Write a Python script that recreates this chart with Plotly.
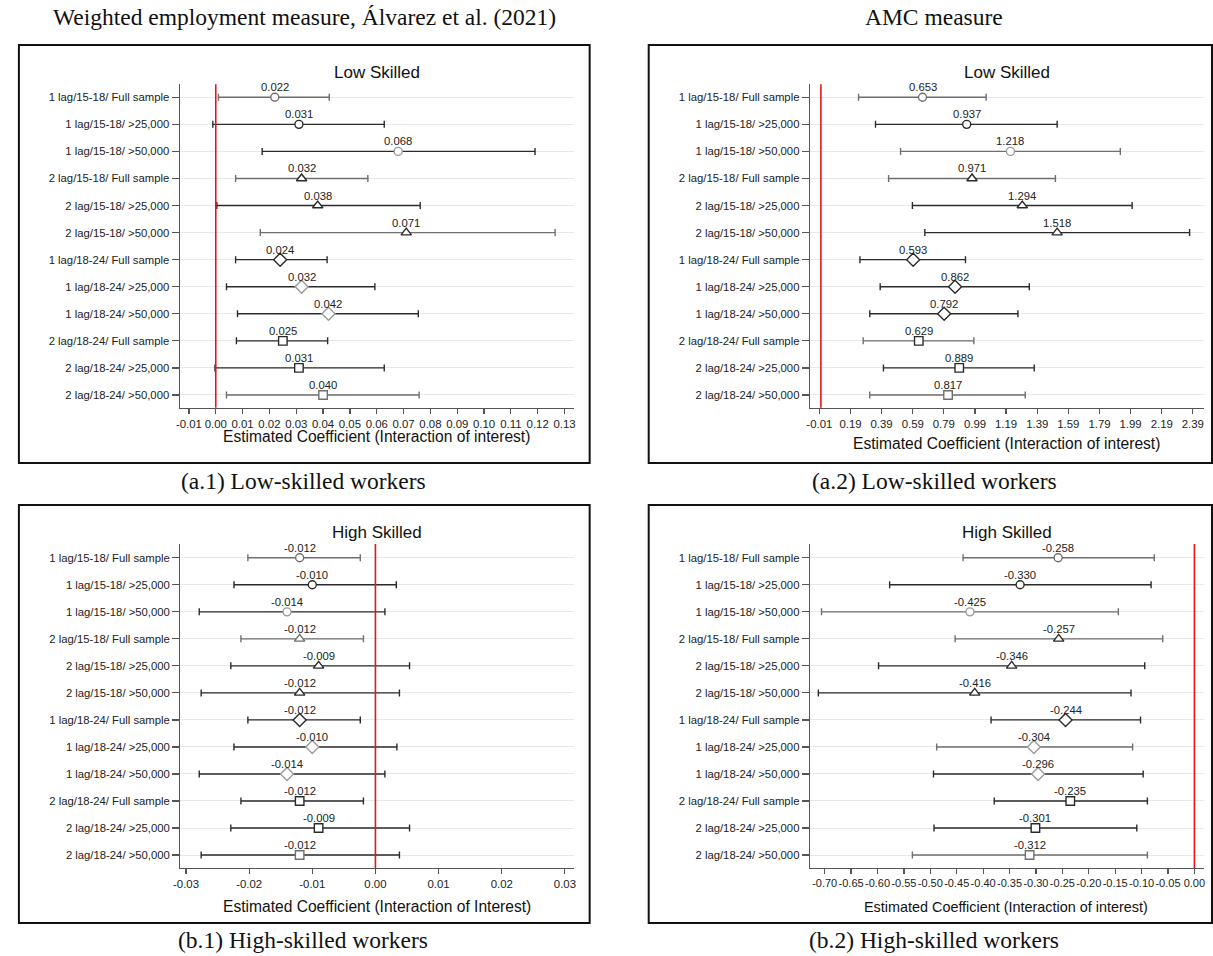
import plotly.graph_objects as go

# ---------------- data ----------------
row_labels = [
    "1 lag/15-18/ Full sample", "1 lag/15-18/ >25,000", "1 lag/15-18/ >50,000",
    "2 lag/15-18/ Full sample", "2 lag/15-18/ >25,000", "2 lag/15-18/ >50,000",
    "1 lag/18-24/ Full sample", "1 lag/18-24/ >25,000", "1 lag/18-24/ >50,000",
    "2 lag/18-24/ Full sample", "2 lag/18-24/ >25,000", "2 lag/18-24/ >50,000",
]

a1_est = [0.022, 0.031, 0.068, 0.032, 0.038, 0.071, 0.024, 0.032, 0.042, 0.025, 0.031, 0.040]
a1_lo = [0.0010, -0.0011, 0.0173, 0.0074, 0.0004, 0.0166, 0.0074, 0.0040, 0.0081, 0.0077, -0.0003, 0.0040]
a1_hi = [0.0423, 0.0628, 0.1190, 0.0567, 0.0762, 0.1265, 0.0415, 0.0593, 0.0755, 0.0417, 0.0628, 0.0758]

a2_est = [0.653, 0.937, 1.218, 0.971, 1.294, 1.518, 0.593, 0.862, 0.792, 0.629, 0.889, 0.817]
a2_lo = [0.242, 0.351, 0.512, 0.435, 0.588, 0.668, 0.251, 0.381, 0.314, 0.272, 0.402, 0.314]
a2_hi = [1.062, 1.518, 1.924, 1.507, 2.000, 2.369, 0.929, 1.339, 1.266, 0.983, 1.371, 1.313]

b1_est = [-0.012, -0.010, -0.014, -0.012, -0.009, -0.012, -0.012, -0.010, -0.014, -0.012, -0.009, -0.012]
b1_lo = [-0.0202, -0.0224, -0.0279, -0.0213, -0.0229, -0.0276, -0.0202, -0.0224, -0.0279, -0.0213, -0.0229, -0.0276]
b1_hi = [-0.0024, 0.0033, 0.0015, -0.0019, 0.0054, 0.0038, -0.0024, 0.0034, 0.0015, -0.0019, 0.0054, 0.0038]

b2_est = [-0.258, -0.330, -0.425, -0.257, -0.346, -0.416, -0.244, -0.304, -0.296, -0.235, -0.301, -0.312]
b2_lo = [-0.438, -0.577, -0.706, -0.453, -0.598, -0.712, -0.385, -0.488, -0.494, -0.379, -0.493, -0.534]
b2_hi = [-0.076, -0.082, -0.144, -0.060, -0.094, -0.120, -0.102, -0.117, -0.097, -0.089, -0.109, -0.089]

a1_ticks = [-0.01, 0.00, 0.01, 0.02, 0.03, 0.04, 0.05, 0.06, 0.07, 0.08, 0.09, 0.10, 0.11, 0.12, 0.13]
a1_ticklabels = ["-0.01", "0.00", "0.01", "0.02", "0.03", "0.04", "0.05", "0.06", "0.07",
                 "0.08", "0.09", "0.10", "0.11", "0.12", "0.13"]
a2_ticks = [-0.01, 0.19, 0.39, 0.59, 0.79, 0.99, 1.19, 1.39, 1.59, 1.79, 1.99, 2.19, 2.39]
a2_ticklabels = ["-0.01", "0.19", "0.39", "0.59", "0.79", "0.99", "1.19", "1.39", "1.59",
                 "1.79", "1.99", "2.19", "2.39"]
b1_ticks = [-0.03, -0.02, -0.01, 0.00, 0.01, 0.02, 0.03]
b1_ticklabels = ["-0.03", "-0.02", "-0.01", "0.00", "0.01", "0.02", "0.03"]
b2_ticks = [-0.70, -0.65, -0.60, -0.55, -0.50, -0.45, -0.40, -0.35, -0.30, -0.25, -0.20,
            -0.15, -0.10, -0.05, 0.00]
b2_ticklabels = ["-0.70", "-0.65", "-0.60", "-0.55", "-0.50", "-0.45", "-0.40", "-0.35",
                 "-0.30", "-0.25", "-0.20", "-0.15", "-0.10", "-0.05", "0.00"]

headers = ["Weighted employment measure, Álvarez et al. (2021)", "AMC measure"]
captions = ["(a.1) Low-skilled workers", "(a.2) Low-skilled workers",
            "(b.1) High-skilled workers", "(b.2) High-skilled workers"]
panel_titles = ["Low Skilled", "Low Skilled", "High Skilled", "High Skilled"]
axis_titles = ["Estimated Coefficient (Interaction of interest)",
               "Estimated Coefficient (Interaction of interest)",
               "Estimated Coefficient (Interaction of Interest)",
               "Estimated Coefficient (Interaction of interest)"]

# ---------------- style ----------------
W, H = 1213, 956
DARK, GRAY, LIGHT = "#2b2b2b", "#6f6f6f", "#9c9c9c"
cmap = {"d": DARK, "g": GRAY, "l": LIGHT}
symbols = ["circle"] * 3 + ["triangle-up"] * 3 + ["diamond"] * 3 + ["square"] * 3
sym_size = {"circle": 8, "triangle-up": 9, "diamond": 10, "square": 8.5}


def fx(p):
    return p / W


def fy(p):
    return 1 - p / H


panels = [
    dict(est=a1_est, lo=a1_lo, hi=a1_hi, ticks=a1_ticks, tlab=a1_ticklabels,
         xr=[-0.01344, 0.1337], xdom=[174, 571.7], ydom=[84.3, 407.7], yr=[12.47, 0.52],
         bars="gddgdgdddddg", marks="gdlddddllddg", title_y=72.3, atitle_y=436.7,
         atitle_x=372.2, atitle_size=15.6, tick_size=11.4),
    dict(est=a2_est, lo=a2_lo, hi=a2_hi, ticks=a2_ticks, tlab=a2_ticklabels,
         xr=[-0.0706, 2.462], xdom=[808.9, 1206], ydom=[84.3, 407.7], yr=[12.47, 0.52],
         bars="gdggdddddgdg", marks="gdlddddddddg", title_y=72.3, atitle_y=443.3,
         atitle_x=1007.3, atitle_size=15.6, tick_size=11.4),
    dict(est=b1_est, lo=b1_lo, hi=b1_hi, ticks=b1_ticks, tlab=b1_ticklabels,
         xr=[-0.0309, 0.0315], xdom=[174.6, 571.6], ydom=[544, 868], yr=[12.48, 0.49],
         bars="gddgdddddddd", marks="gdlgdddllddg", title_y=532.3, atitle_y=906.7,
         atitle_x=372.7, atitle_size=15.6, tick_size=11.4),
    dict(est=b2_est, lo=b2_lo, hi=b2_hi, ticks=b2_ticks, tlab=b2_ticklabels,
         xr=[-0.728, 0.0179], xdom=[808.9, 1205.8], ydom=[544, 868], yr=[12.48, 0.49],
         bars="gdggdddgdddg", marks="gdlddddllddg", title_y=532.3, atitle_y=906.7,
         atitle_x=1006.4, atitle_size=14.4, tick_size=11.0),
]

boxes = [(12, 45, 587, 463), (646.5, 45, 1214, 463), (12, 505, 587, 923), (646.5, 505, 1214, 923)]
caption_pos = [(298.5, 481), (934, 481), (298.5, 940), (934, 940)]
header_pos = [(299.5, 17), (934, 17)]

SANS = "Liberation Sans, Arial, Helvetica, sans-serif"
SERIF = "Liberation Serif, Times New Roman, serif"

fig = go.Figure()
annotations = []
shapes = []

for k, p in enumerate(panels):
    sfx = "" if k == 0 else str(k + 1)
    xa, ya = "x" + sfx, "y" + sfx
    for i in range(12):
        bc = cmap[p["bars"][i]]
        mc = cmap[p["marks"][i]]
        fig.add_trace(go.Scatter(
            x=[p["est"][i]], y=[i + 1], mode="markers",
            marker=dict(symbol=symbols[i], size=sym_size[symbols[i]], color="white",
                        line=dict(color=mc, width=1.4)),
            error_x=dict(type="data", symmetric=False,
                         array=[p["hi"][i] - p["est"][i]],
                         arrayminus=[p["est"][i] - p["lo"][i]],
                         color=bc, thickness=1.4, width=3.5),
            xaxis=xa, yaxis=ya, showlegend=False, hoverinfo="skip"))
        annotations.append(dict(
            x=p["est"][i], y=i + 1, xref=xa, yref=ya, text=f"{p['est'][i]:.3f}",
            showarrow=False, yshift=10, font=dict(family=SANS, size=11.3, color="#222"),
            xanchor="center", yanchor="middle"))

    fig.layout["xaxis" + sfx] = dict(
        domain=[fx(p["xdom"][0]), fx(p["xdom"][1])], anchor=ya, range=p["xr"],
        tickvals=p["ticks"], ticktext=p["tlab"], tickangle=0, showgrid=False, zeroline=False,
        showline=True, linecolor="#555", linewidth=1.2, ticks="outside", ticklen=5,
        tickcolor="#555", tickwidth=1.2,
        tickfont=dict(family=SANS, size=p["tick_size"], color="#222"))
    fig.layout["yaxis" + sfx] = dict(
        domain=[fy(p["ydom"][1]), fy(p["ydom"][0])], anchor=xa, range=p["yr"],
        tickvals=list(range(1, 13)), ticktext=row_labels, showgrid=True,
        gridcolor="#e8e8e8", gridwidth=1, zeroline=False, showline=True,
        linecolor="#555", linewidth=1.2, ticks="outside", ticklen=7, tickcolor="#555",
        tickwidth=1.2, tickfont=dict(family=SANS, size=11.3, color="#222"))

    # red reference line at zero
    shapes.append(dict(type="line", xref=xa, yref=ya + " domain", x0=0, x1=0, y0=0, y1=1,
                       line=dict(color="#e8141c", width=1.6), layer="above"))
    # panel title
    annotations.append(dict(
        x=fx((p["xdom"][0] + p["xdom"][1]) / 2), y=fy(p["title_y"]), xref="paper", yref="paper",
        text=panel_titles[k], showarrow=False, xanchor="center", yanchor="middle",
        font=dict(family=SANS, size=17, color="#111")))
    # axis title
    annotations.append(dict(
        x=fx(p["atitle_x"]), y=fy(p["atitle_y"]), xref="paper", yref="paper",
        text=axis_titles[k], showarrow=False, xanchor="center", yanchor="middle",
        font=dict(family=SANS, size=p["atitle_size"], color="#111")))

for (x0, y0, x1, y1) in boxes:
    shapes.append(dict(type="rect", xref="paper", yref="paper", x0=fx(x0), x1=fx(x1),
                       y0=fy(y1), y1=fy(y0), line=dict(color="#111", width=2),
                       fillcolor="rgba(0,0,0,0)", layer="above"))

for txt, (cx, cy) in zip(captions, caption_pos):
    annotations.append(dict(x=fx(cx), y=fy(cy), xref="paper", yref="paper", text=txt,
                            showarrow=False, xanchor="center", yanchor="middle",
                            font=dict(family=SERIF, size=23.5, color="#111")))
for txt, (cx, cy) in zip(headers, header_pos):
    annotations.append(dict(x=fx(cx), y=fy(cy), xref="paper", yref="paper", text=txt,
                            showarrow=False, xanchor="center", yanchor="middle",
                            font=dict(family=SERIF, size=23.5, color="#111")))

fig.update_layout(
    width=W, height=H, margin=dict(l=0, r=0, t=0, b=0),
    paper_bgcolor="white", plot_bgcolor="white",
    annotations=annotations, shapes=shapes, showlegend=False,
)

fig.write_html(
    "out.html",
    config={"displayModeBar": False, "staticPlot": True},
    post_script="document.body.style.margin='0';document.body.style.padding='0';"
                "document.body.style.overflow='hidden';",
)
